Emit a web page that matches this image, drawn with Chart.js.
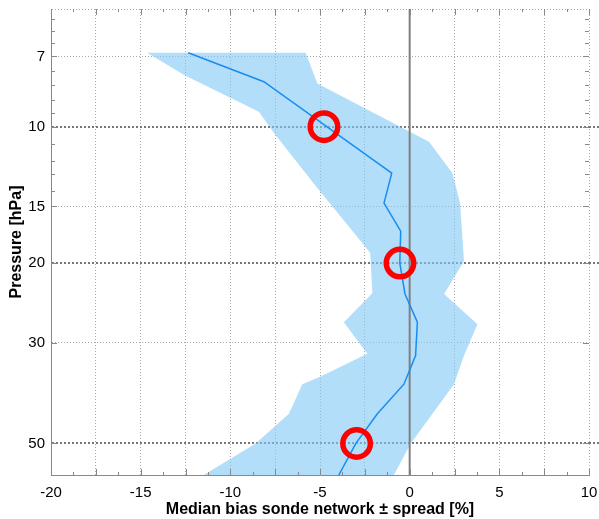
<!DOCTYPE html>
<html>
<head>
<meta charset="utf-8">
<script src="https://cdn.jsdelivr.net/npm/chart.js@4/dist/chart.umd.min.js"></script>
<style>
  html, body { margin: 0; padding: 0; background: #fff; }
  canvas { display: block; }
</style>
</head>
<body>
<canvas id="chart" width="599" height="519"></canvas>
<script>
// median bias profile (pressure in hPa, bias in %)
const medianPressure = [6.87, 7.96, 12.66, 14.74, 17.0, 20.0, 23.4, 27.0, 32.0, 37.0, 43.0, 50.0, 58.7];
const medianBias     = [-12.35, -8.13, -1.0, -1.43, -0.5, -0.55, -0.26, 0.43, 0.33, -0.32, -1.8, -3.0, -3.95];

// spread envelope: left edge top->bottom, right edge top->bottom
const spreadLowPressure  = [6.87, 7.72, 9.27, 10.43, 13.66, 17.15, 19.0, 23.3, 27.0, 31.7, 35.7, 37.0, 43.0, 50.0, 58.7];
const spreadLowBias      = [-14.64, -12.5, -8.41, -7.48, -5.15, -3.11, -2.2, -2.08, -3.67, -2.36, -5.06, -5.99, -6.73, -8.59, -11.48];
const spreadHighPressure = [6.87, 8.03, 10.79, 12.66, 14.74, 19.8, 23.4, 27.3, 32.0, 37.0, 50.0, 58.7];
const spreadHighBias     = [-5.8, -5.15, 1.08, 2.38, 2.81, 3.03, 1.92, 3.78, 3.03, 2.47, 0.06, -0.88];

// highlighted levels
const markedPressure = [10, 20, 50];
const markedBias     = [-4.78, -0.54, -2.96];

// axes
const biasMin = -20, biasMax = 10, biasStep = 2.5, biasMinorStep = 1.25;
const pressureMin = 5.5, pressureMax = 58.7;
const pressureLabels = [7, 10, 15, 20, 30, 50];
const pressureBold = [10, 20, 50];
const pressureMinor = [5.8, 6.15, 6.55, 7.55, 8.1, 8.75, 9.35, 10.9, 11.9, 12.75, 13.9];

const FONT = '"Liberation Sans", Arial, Helvetica, sans-serif';

const toPoints = (xs, ys) => xs.map((x, i) => ({ x: x, y: ys[i] }));

const median = toPoints(medianBias, medianPressure);
const band = toPoints(spreadLowBias, spreadLowPressure)
  .concat(toPoints(spreadHighBias, spreadHighPressure).reverse());
band.push(band[0]);
const circles = toPoints(markedBias, markedPressure);
const zeroLine = [{ x: 0, y: pressureMin }, { x: 0, y: pressureMax }];

const yGrid = [pressureMin].concat(pressureMinor, pressureLabels).sort((a, b) => a - b);
const xMinor = [];
for (let v = biasMin; v <= biasMax; v += biasMinorStep) xMinor.push(v);

// no extra label padding: the chart area is fixed by layout.padding
function noPadding(s) {
  s.paddingTop = 0;
  s.paddingBottom = 0;
  s.paddingLeft = 0;
  s.paddingRight = 0;
}

// inward tick marks on all four sides + bold lines running to the edge
const frameTicks = {
  id: 'frameTicks',
  afterDraw(chart) {
    const { ctx, chartArea: a, scales: { x, y } } = chart;
    ctx.save();
    ctx.strokeStyle = '#888';
    ctx.lineWidth = 1;
    ctx.beginPath();
    xMinor.forEach(v => {
      const px = Math.round(x.getPixelForValue(v)) + 0.5;
      const len = Math.abs(v % biasStep) < 1e-6 ? 6 : 3;
      ctx.moveTo(px, a.bottom); ctx.lineTo(px, a.bottom - len);
      ctx.moveTo(px, a.top); ctx.lineTo(px, a.top + len);
    });
    pressureLabels.concat(pressureMinor).forEach(p => {
      const py = Math.round(y.getPixelForValue(p)) + 0.5;
      const len = pressureLabels.includes(p) ? 6 : 4;
      ctx.moveTo(a.left, py); ctx.lineTo(a.left + len, py);
      ctx.moveTo(a.right, py); ctx.lineTo(a.right - len, py);
    });
    ctx.stroke();

    ctx.strokeStyle = '#777';
    ctx.lineWidth = 2;
    ctx.setLineDash([2, 2]);
    pressureBold.forEach(p => {
      const py = Math.round(y.getPixelForValue(p));
      ctx.beginPath();
      ctx.moveTo(a.right, py);
      ctx.lineTo(chart.width, py);
      ctx.stroke();
    });
    ctx.restore();
  }
};

new Chart(document.getElementById('chart'), {
  type: 'scatter',
  data: {
    datasets: [
      {
        label: 'marked',
        data: circles,
        showLine: false,
        pointRadius: 13.75,
        pointHoverRadius: 13.75,
        pointBorderWidth: 5.5,
        pointBorderColor: '#ff0000',
        pointBackgroundColor: 'rgba(0,0,0,0)',
        borderColor: '#ff0000',
        backgroundColor: 'rgba(0,0,0,0)',
        order: 0
      },
      {
        label: 'median',
        data: median,
        showLine: true,
        borderColor: '#1a8cf0',
        borderWidth: 1.5,
        pointRadius: 0,
        tension: 0,
        order: 1
      },
      {
        label: 'zero',
        data: zeroLine,
        showLine: true,
        borderColor: '#808080',
        borderWidth: 2,
        pointRadius: 0,
        order: 2
      },
      {
        label: 'spread',
        data: band,
        showLine: true,
        fill: 'shape',
        backgroundColor: 'rgba(127,200,247,0.6)',
        borderColor: 'rgba(0,0,0,0)',
        borderWidth: 0,
        pointRadius: 0,
        tension: 0,
        order: 3
      }
    ]
  },
  options: {
    responsive: false,
    animation: false,
    layout: { autoPadding: false, padding: { top: 9, right: 10, left: 0, bottom: 0 } },
    plugins: {
      legend: { display: false },
      tooltip: { enabled: false }
    },
    scales: {
      x: {
        type: 'linear',
        position: 'bottom',
        min: biasMin,
        max: biasMax,
        afterFit: s => { s.height = 44; noPadding(s); },
        ticks: {
          stepSize: biasStep,
          autoSkip: false,
          maxRotation: 0,
          padding: 9,
          color: '#000',
          font: { family: FONT, size: 15 },
          callback: v => (v % 5 === 0 ? String(v) : '')
        },
        grid: { color: '#aaa', lineWidth: 1, drawTicks: false },
        border: { display: true, color: '#888', width: 1, dash: [1, 2] },
        title: {
          display: true,
          text: 'Median bias sonde network ± spread [%]',
          color: '#000',
          font: { family: FONT, size: 16, weight: 'bold' },
          padding: { top: 0, bottom: 0 }
        }
      },
      y: {
        type: 'logarithmic',
        reverse: true,
        min: pressureMin,
        max: pressureMax,
        afterFit: s => { s.width = 51; noPadding(s); },
        afterBuildTicks: s => { s.ticks = yGrid.map(v => ({ value: v })); },
        ticks: {
          autoSkip: false,
          padding: 6,
          color: '#000',
          font: { family: FONT, size: 15 },
          callback: v => (pressureLabels.includes(v) ? String(v) : '')
        },
        grid: {
          drawTicks: false,
          color: c => {
            if (!c.tick) return '#aaa';
            const v = c.tick.value;
            if (pressureBold.includes(v)) return '#777';
            if (pressureLabels.includes(v) || v === pressureMin) return '#aaa';
            return 'rgba(0,0,0,0)';
          },
          lineWidth: c => (c.tick && pressureBold.includes(c.tick.value) ? 2 : 1)
        },
        border: {
          display: true,
          color: '#888',
          width: 1,
          dash: c => (c.tick && pressureBold.includes(c.tick.value) ? [2, 2] : [1, 2])
        },
        title: {
          display: true,
          text: 'Pressure [hPa]',
          color: '#000',
          font: { family: FONT, size: 16, weight: 'bold' },
          padding: { top: 7, bottom: 0 }
        }
      }
    }
  },
  plugins: [frameTicks]
});
</script>
</body>
</html>
